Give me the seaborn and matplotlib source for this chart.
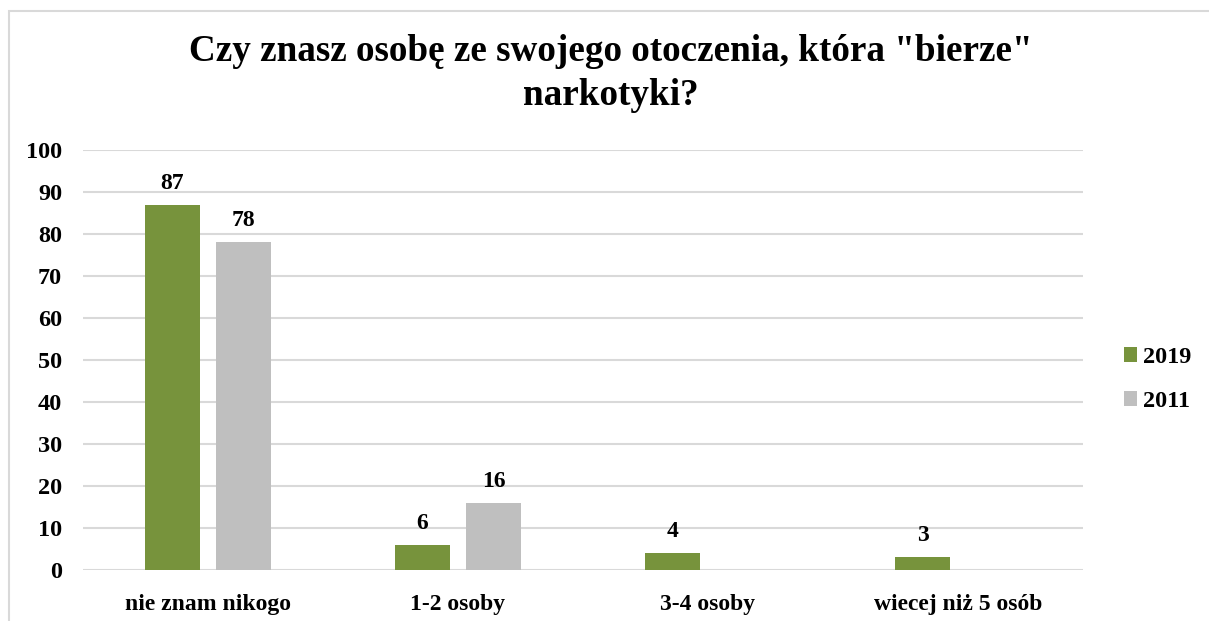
import matplotlib
matplotlib.use("Agg")
import matplotlib.pyplot as plt
import seaborn as sns
import pandas as pd
from matplotlib.patches import Rectangle

categories = ["nie znam nikogo", "1-2 osoby", "3-4 osoby", "wiecej niż 5 osób"]
values_2019 = [87, 6, 4, 3]
values_2011 = [78, 16, 0, 0]
series = ["2019", "2011"]
colors = ["#77933C", "#BFBFBF"]
yticks = [0, 10, 20, 30, 40, 50, 60, 70, 80, 90, 100]
title = 'Czy znasz osobę ze swojego otoczenia, która "bierze"\nnarkotyki?'

df = pd.DataFrame({
    "kategoria": categories * 2,
    "rok": [series[0]] * len(categories) + [series[1]] * len(categories),
    "wartosc": values_2019 + values_2011,
})

sns.set_theme(style="white")
plt.rcParams['font.family'] = ['Liberation Serif', 'DejaVu Serif']
plt.rcParams['font.weight'] = 'bold'
plt.rcParams['text.color'] = 'black'
plt.rcParams['xtick.color'] = 'black'
plt.rcParams['ytick.color'] = 'black'

fig = plt.figure(figsize=(12.09, 6.21), dpi=100)
ax = fig.add_axes([0.0687, 0.0821, 0.8271, 0.6763])

sns.barplot(data=df, x="kategoria", y="wartosc", hue="rok", order=categories,
            hue_order=series, palette=colors, width=0.568, gap=0.225,
            saturation=1, ax=ax, legend=True, linewidth=0)

for cont in ax.containers:
    labels = [f"{v:.0f}" if v > 0 else "" for v in cont.datavalues]
    ax.bar_label(cont, labels=labels, padding=8, fontsize=17, fontweight='bold', color='black')

ax.set_ylim(0, 100)
ax.set_xlim(-0.5, len(categories) - 0.5)
ax.set_yticks(yticks)
ax.set_yticklabels([str(t) for t in yticks], fontsize=17.5, fontweight='bold', color='black')
ax.set_xticklabels(categories, fontsize=17, fontweight='bold', color='black')
ax.set_xlabel("")
ax.set_ylabel("")
ax.yaxis.grid(True, color="#D9D9D9", linewidth=1.5)
ax.set_axisbelow(True)
for s in ax.spines.values():
    s.set_visible(False)
ax.tick_params(axis='y', length=0, pad=15)
ax.tick_params(axis='x', length=0, pad=17)

leg = ax.legend(loc='center left', bbox_to_anchor=(1.041, 0.453), frameon=False,
                prop={'size': 17.5, 'weight': 'bold'}, handlelength=0.55, handleheight=0.55,
                handletextpad=0.25, labelspacing=0.95, borderpad=0, borderaxespad=0)
for t in leg.get_texts():
    t.set_color('black')

fig.suptitle(title, fontsize=26.7, fontweight='bold', x=0.505, y=0.945,
             linespacing=1.32, color='black')

fig.patches.append(Rectangle((9 / 1209, -0.1), 1.2, 1 - 11 / 621 + 0.1,
                             transform=fig.transFigure, fill=False,
                             edgecolor="#D9D9D9", linewidth=1.5))

fig.savefig("out.png", dpi=100)
